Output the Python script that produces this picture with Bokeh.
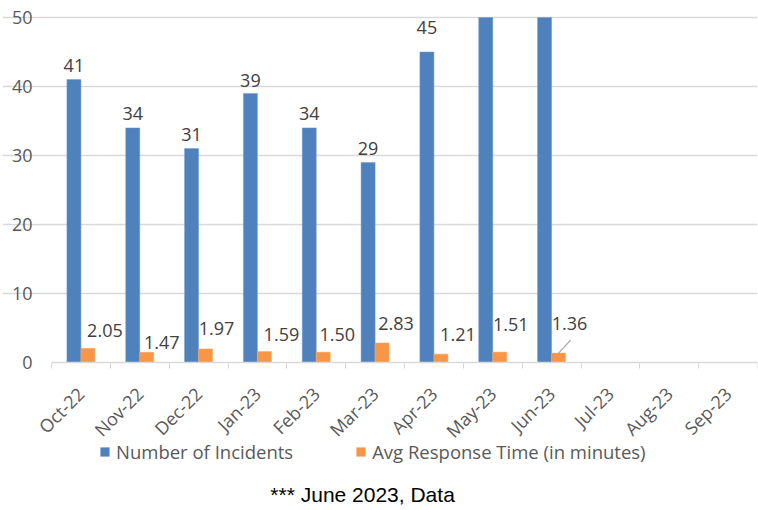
from math import pi
from bokeh.plotting import figure
from bokeh.models import (Range1d, FixedTicker, Legend, LegendItem, Label,
                          ColumnDataSource)
from bokeh.core.properties import value
from bokeh.embed import file_html
from bokeh.resources import INLINE

# ---- data ----
months = ["Oct-22", "Nov-22", "Dec-22", "Jan-23", "Feb-23", "Mar-23",
          "Apr-23", "May-23", "Jun-23", "Jul-23", "Aug-23", "Sep-23"]
incidents = [41, 34, 31, 39, 34, 29, 45, 56, 54]          # May/Jun exceed the 50 axis max (clipped)
response = [2.05, 1.47, 1.97, 1.59, 1.50, 2.83, 1.21, 1.51, 1.36]
y_ticks = [0, 10, 20, 30, 40, 50]
footnote = "*** June 2023,  Data"

# ---- label style offsets (pixels) ----
inc_label_dy = [14, 14, 14, 13, 14, 14, 25, 14, 14]
resp_label_dx = [17, 15, 11, 17, 14, 14, 17, 11, 11]
resp_label_dy = [18, 10, 20, 17, 18, 19.5, 20, 28, 30]

BLUE = "#4f81bd"
ORANGE = "#f79646"
GRID = "#d9d9d9"
AXTXT = "#595959"
LBLTXT = "#404040"
FONT = "Open Sans"

# frame covers the whole canvas so axis labels, legend and note fit inside it
LEFT = 2            # frame left edge on the canvas
PLOT_LEFT = 51      # where x = 0 sits
PLOT_W = 706
PLOT_TOP = 17       # where y = 50 sits
PLOT_H = 345
TOTAL_H = 510
FW = PLOT_LEFT - LEFT + PLOT_W
FH = TOTAL_H
ymax = y_ticks[-1]
px_y = PLOT_H / ymax
y_end = ymax + PLOT_TOP / px_y
y_start = y_end - FH / px_y

n = len(months)
px_x = PLOT_W / n
x_start = -(PLOT_LEFT - LEFT) / px_x
centers = [i + 0.5 for i in range(n)]
bw = 0.238
off = bw / 2

p = figure(frame_width=FW, frame_height=FH, output_backend="svg",
           toolbar_location=None, x_range=Range1d(x_start, n), y_range=Range1d(y_start, y_end),
           min_border_left=LEFT, min_border_top=0, min_border_right=1,
           min_border_bottom=0)
p.outline_line_color = None
p.background_fill_color = "white"
p.border_fill_color = "white"

k = len(incidents)
# bars are cut at the axis maximum, as in the original chart
src_b = ColumnDataSource(dict(x=[c - off for c in centers[:k]],
                              top=[min(v, ymax) for v in incidents]))
src_o = ColumnDataSource(dict(x=[c + off for c in centers[:len(response)]],
                              top=[min(v, ymax) for v in response]))
rb = p.vbar(x="x", top="top", bottom=0, width=bw, source=src_b, fill_color=BLUE,
            line_color="#6f98cc", line_width=0.5)
ro = p.vbar(x="x", top="top", bottom=0, width=bw, source=src_o, fill_color=ORANGE,
            line_color="#f9a96f", line_width=0.5)

# labels for incidents (only those within the axis range)
bl = dict(x=[], y=[], t=[], dy=[])
for i, v in enumerate(incidents):
    if v <= ymax:
        bl["x"].append(centers[i] - off)
        bl["y"].append(v)
        bl["t"].append(str(v))
        bl["dy"].append(-inc_label_dy[i])
p.text(x="x", y="y", text="t", y_offset="dy", source=ColumnDataSource(bl),
       text_font=value(FONT), text_font_size="18px", text_color=LBLTXT,
       text_align="center", text_baseline="middle")

ol = dict(x=[c + off for c in centers[:len(response)]], y=response,
          t=[f"{v:.2f}" for v in response], dx=resp_label_dx,
          dy=[-d for d in resp_label_dy])
p.text(x="x", y="y", text="t", x_offset="dx", y_offset="dy",
       source=ColumnDataSource(ol),
       text_font=value(FONT), text_font_size="18px", text_color=LBLTXT,
       text_align="center", text_baseline="middle")

# leader line for the last response label (from bar top toward its moved label)
j = len(response) - 1
p.segment(x0=[centers[j] + off], y0=[response[j]],
          x1=[centers[j] + off + 12 / px_x], y1=[response[j] + 13 / px_y],
          line_color="#a6a6a6", line_width=1.3)

# x axis drawn at y = 0 inside the frame
xa = p.xaxis[0]
xa.fixed_location = 0
xa.bounds = (0, n)
xa.ticker = FixedTicker(ticks=centers, minor_ticks=list(range(n + 1)))
xa.major_label_overrides = {c: m for c, m in zip(centers, months)}
xa.major_label_orientation = pi / 4
xa.major_tick_line_color = None
xa.major_tick_out = 0
xa.major_tick_in = 0
xa.minor_tick_line_color = GRID
xa.minor_tick_out = 6
xa.minor_tick_in = 0
xa.axis_line_color = GRID
xa.axis_line_width = 1.5
xa.major_label_text_font = FONT
xa.major_label_text_font_size = "18px"
xa.major_label_text_color = AXTXT
xa.major_label_standoff = 22

# y axis drawn at x = 0 inside the frame
ya = p.yaxis[0]
ya.fixed_location = 0
ya.bounds = (0, ymax)
ya.ticker = FixedTicker(ticks=y_ticks)
ya.axis_line_color = None
ya.major_tick_line_color = None
ya.minor_tick_line_color = None
ya.major_tick_out = 0
ya.major_label_standoff = 19
ya.major_label_text_font = FONT
ya.major_label_text_font_size = "18px"
ya.major_label_text_color = AXTXT

p.xgrid.grid_line_color = None
p.ygrid.grid_line_color = GRID
p.ygrid.grid_line_width = 1.5
p.ygrid.ticker = FixedTicker(ticks=y_ticks[1:])
p.ygrid.bounds = (0, n)

legend = Legend(items=[LegendItem(label="Number of Incidents", renderers=[rb]),
                       LegendItem(label="Avg Response Time (in minutes)", renderers=[ro])],
                orientation="horizontal", location=(99 - LEFT, 46),
                glyph_width=11, glyph_height=11, label_standoff=6, spacing=62,
                label_height=20,
                label_text_font=FONT, label_text_font_size="18.5px", label_text_color=AXTXT,
                border_line_color=None, background_fill_alpha=0, padding=0, margin=0)
p.add_layout(legend, "center")

foot = Label(x=365 - LEFT, y=16, x_units="screen", y_units="screen", text=footnote,
             text_font="Liberation Sans", text_font_size="21px",
             text_color="black", text_align="center", text_baseline="middle")
p.add_layout(foot)

open("out.html", "w").write(file_html(p, INLINE))
